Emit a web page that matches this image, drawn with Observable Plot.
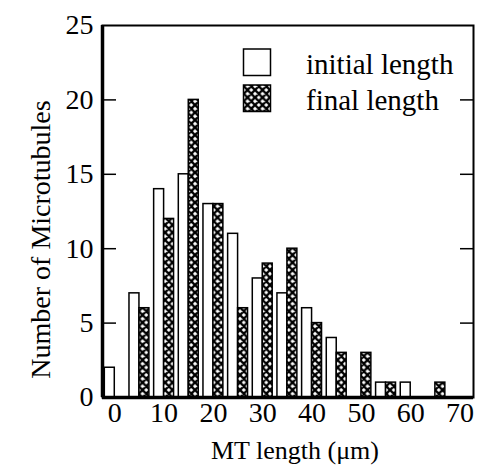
<!DOCTYPE html>
<html>
<head>
<meta charset="utf-8">
<script src="https://cdn.jsdelivr.net/npm/d3@7"></script>
<script src="https://cdn.jsdelivr.net/npm/@observablehq/plot@0.6"></script>
<style>
  body { margin: 0; background: white; }
  #chart svg { display: block; }
</style>
</head>
<body>
<div id="chart"></div>
<script>
// ---- data ----
const bins = [0, 5, 10, 15, 20, 25, 30, 35, 40, 45, 50, 55, 60, 65];
const initialCounts = [2, 7, 14, 15, 13, 11, 8, 7, 6, 4, 0, 1, 1, 0];
const finalCounts   = [0, 6, 12, 20, 13, 6, 9, 10, 5, 3, 3, 1, 0, 1];
const seriesNames = ["initial length", "final length"];
const xTicks = [0, 10, 20, 30, 40, 50, 60, 70];
const yTicks = [0, 5, 10, 15, 20, 25];
const yInnerTicks = [5, 10, 15, 20];
const xTitle = "MT length (\u03bcm)";
const yTitle = "Number of Microtubules";

const initialData = bins.map((b, i) => ({bin: b, count: initialCounts[i]})).filter(d => d.count > 0);
const finalData = bins.map((b, i) => ({bin: b, count: finalCounts[i]})).filter(d => d.count > 0);

const xDomain = [-2.49, 72.73];
const barW = 2.02;
const font = "'Liberation Serif', 'Times New Roman', Times, serif";

const chart = Plot.plot({
  width: 481,
  height: 476,
  marginLeft: 102,
  marginRight: 8,
  marginTop: 25,
  marginBottom: 79,
  style: {fontFamily: font, fontSize: "28px", color: "black", background: "white"},
  x: {domain: xDomain},
  y: {domain: [0, 25]},
  marks: [
    Plot.rectY(initialData, {x1: d => d.bin - barW, x2: d => d.bin, y: "count", fill: "white", stroke: "black", strokeWidth: 1.5}),
    Plot.rectY(finalData, {x1: d => d.bin, x2: d => d.bin + barW, y: "count", fill: "url(#xhatch)", stroke: "black", strokeWidth: 1.5}),
    Plot.frame({stroke: "black", strokeWidth: 2}),
    Plot.ruleY([0], {stroke: "black", strokeWidth: 3.5}),
    Plot.ruleX([xDomain[0]], {stroke: "black", strokeWidth: 3.5}),
    Plot.axisY(yInnerTicks, {anchor: "left", tickSize: 14, dx: 14, text: null, label: null, strokeWidth: 1.5}),
    Plot.axisY(yInnerTicks, {anchor: "right", tickSize: 14, dx: -14, text: null, label: null, strokeWidth: 1.5}),
    Plot.axisY(yTicks, {anchor: "left", tickSize: 0, tickPadding: 9, label: null, fontSize: 28}),
    Plot.axisX(xTicks, {anchor: "bottom", tickSize: 0, tickPadding: 5, label: null, fontSize: 28}),
    Plot.text([yTitle], {frameAnchor: "left", textAnchor: "middle", lineAnchor: "middle", rotate: -90, dx: -61, dy: 28, fontSize: 28, fill: "black"}),
    Plot.text([xTitle], {frameAnchor: "bottom", textAnchor: "middle", dx: 7, dy: 61, fontSize: 26, fill: "black"})
  ]
});

const svg = d3.select(chart);
const defs = svg.insert("defs", ":first-child");
const pat = defs.append("pattern")
  .attr("id", "xhatch")
  .attr("patternUnits", "userSpaceOnUse")
  .attr("width", 7.5).attr("height", 7.5);
pat.append("rect").attr("width", 7.5).attr("height", 7.5).attr("fill", "white");
pat.append("path")
  .attr("d", "M-1,-1 L8.5,8.5 M8.5,-1 L-1,8.5 M-4.75,2.75 L2.75,10.25 M4.75,-2.75 L12.25,4.75 M2.75,-4.75 L-4.75,2.75 M12.25,2.75 L4.75,10.25")
  .attr("stroke", "black").attr("stroke-width", 2.4).attr("fill", "none");

// legend
const legend = svg.append("g")
  .attr("font-family", font).attr("font-size", 29)
  .attr("text-anchor", "start");
seriesNames.forEach((name, i) => {
  const y0 = 49 + i * 36;
  legend.append("rect")
    .attr("x", 243.5).attr("y", y0).attr("width", 27).attr("height", 26.5)
    .attr("fill", i === 0 ? "white" : "url(#xhatch)")
    .attr("stroke", "black").attr("stroke-width", 1.5);
  legend.append("text")
    .attr("x", 306).attr("y", y0 + 24.5)
    .attr("text-anchor", "start")
    .attr("fill", "black")
    .text(name);
});

document.getElementById("chart").appendChild(chart);
</script>
</body>
</html>
